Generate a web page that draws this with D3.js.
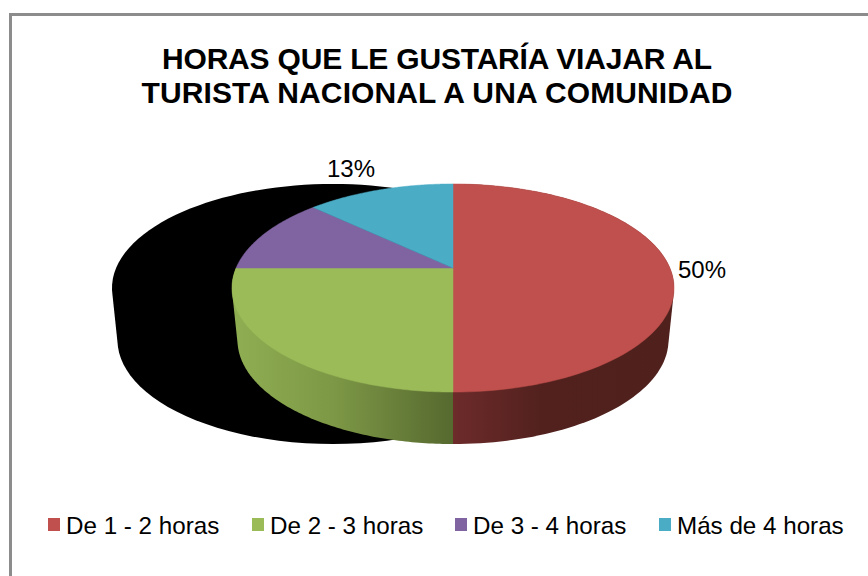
<!DOCTYPE html>
<html>
<head>
<meta charset="utf-8">
<script src="https://cdn.jsdelivr.net/npm/d3@7"></script>
<style>
  html, body { margin: 0; padding: 0; background: #fff; }
  svg { display: block; }
  text { font-family: "Liberation Sans", Arial, sans-serif; fill: #000; }
</style>
</head>
<body>
<svg id="chart" width="868" height="576"></svg>
<script>
var categorias = ["De 1 - 2 horas", "De 2 - 3 horas", "De 3 - 4 horas", "Más de 4 horas"]
var valores = [50, 25, 12, 13]
var colores = ["#c0504d", "#9bbb59", "#8064a2", "#4bacc6"]
var etiquetas = ["50%", "", "", "13%"]
var titulo = ["HORAS QUE LE GUSTARÍA VIAJAR AL", "TURISTA NACIONAL A UNA COMUNIDAD"]
var titulo_ancho = [550, 591]

var svg = d3.select("#chart")
var W = 868, H = 576

// frame runs off the right and bottom of the picture
svg.append("path")
    .attr("d", "M10.5," + H + "V14.5H" + W)
    .attr("fill", "none")
    .attr("stroke", "#8c8c8c")
    .attr("stroke-width", 3)

svg.selectAll(".titulo")
    .data(titulo)
    .enter()
    .append("text")
    .attr("class", "titulo")
    .attr("x", 437)
    .attr("y", function(d, i) { return 69 + i * 34 })
    .attr("text-anchor", "middle")
    .attr("textLength", function(d, i) { return titulo_ancho[i] })
    .attr("lengthAdjust", "spacing")
    .style("font-size", "30px")
    .style("font-weight", "bold")
    .text(function(d) { return d })

// the pie is a tilted disc, so the centre of the slices sits above the middle of the ellipse
var cx = 453, cy = 268, depth = 52
var persp = 0.1923
var scale_x = d3.scaleLinear().domain([-1, 1]).range([-216.9, 216.9])
var scale_y = d3.scaleLinear().domain([-1, 1]).range([-100.2, 100.2])
var bottom_shrink = 0.975

function project(angle, r, lower) {
    var u = Math.sin(angle) * r
    var v = -Math.cos(angle) * r
    var w = 1 - persp * v
    var k = lower ? bottom_shrink : 1
    return [cx + scale_x(u) / w * k, cy + scale_y(v) / w + (lower ? depth : 0)]
}

var pie = d3.pie().sort(null).value(function(d) { return d })
var arcs = pie(valores)
var color = d3.scaleOrdinal().domain(categorias).range(colores)
var line = d3.line()

function angles(a0, a1) {
    return d3.range(0, 121).map(function(i) { return a0 + (a1 - a0) * i / 120 })
}

function face_path(a) {
    var pts = angles(a.startAngle, a.endAngle).map(function(t) { return project(t, 1, false) })
    pts.unshift([cx, cy])
    return line(pts) + "Z"
}

// hull of the top and bottom rims gives straight tangent sides, the top face hides the rest
function wall_path(a0, a1) {
    var top = angles(a0, a1).map(function(t) { return project(t, 1, false) })
    var low = angles(a0, a1).map(function(t) { return project(t, 1, true) })
    return line(d3.polygonHull(top.concat(low))) + "Z"
}

var TAU = Math.PI * 2

// black copy of the whole pie, pushed to the left
var sombra = svg.append("g").attr("transform", "translate(-120,0)")
sombra.append("path").attr("d", wall_path(0, TAU)).attr("fill", "#000")

var defs = svg.append("defs")
var grad_green = defs.append("linearGradient").attr("id", "wall_green")
    .attr("gradientUnits", "userSpaceOnUse").attr("x1", 235).attr("x2", 453).attr("y1", 0).attr("y2", 0)
grad_green.append("stop").attr("offset", 0).attr("stop-color", "#8fae52")
grad_green.append("stop").attr("offset", 0.45).attr("stop-color", "#7d9846")
grad_green.append("stop").attr("offset", 1).attr("stop-color", "#56692f")
var grad_red = defs.append("linearGradient").attr("id", "wall_red")
    .attr("gradientUnits", "userSpaceOnUse").attr("x1", 453).attr("x2", 673).attr("y1", 0).attr("y2", 0)
grad_red.append("stop").attr("offset", 0).attr("stop-color", "#6d2b2a")
grad_red.append("stop").attr("offset", 0.4).attr("stop-color", "#52211e")
grad_red.append("stop").attr("offset", 1).attr("stop-color", "#4f201c")

svg.append("path").attr("d", wall_path(arcs[1].startAngle, arcs[1].endAngle)).attr("fill", "url(#wall_green)")
svg.append("path").attr("d", wall_path(arcs[0].startAngle, arcs[0].endAngle)).attr("fill", "url(#wall_red)")

svg.selectAll(".slice")
    .data(arcs)
    .enter()
    .append("path")
    .attr("class", "slice")
    .attr("d", face_path)
    .attr("fill", function(d, i) { return color(categorias[i]) })
    .attr("stroke", function(d, i) { return color(categorias[i]) })
    .attr("stroke-width", 0.5)

// only two slices carry a label in the original
var label_x = d3.scaleOrdinal().domain(etiquetas).range([702, 0, 351])
var label_y = d3.scaleOrdinal().domain(etiquetas).range([278, 0, 177])
svg.selectAll(".etiqueta")
    .data(etiquetas.filter(function(d) { return d != "" }))
    .enter()
    .append("text")
    .attr("class", "etiqueta")
    .attr("x", function(d) { return label_x(d) })
    .attr("y", function(d) { return label_y(d) })
    .attr("text-anchor", "middle")
    .style("font-size", "24px")
    .text(function(d) { return d })

var legend_x = d3.scaleOrdinal().domain(categorias).range([48, 252, 455, 659])
var legend = svg.selectAll(".legend")
    .data(categorias)
    .enter()
    .append("g")
    .attr("class", "legend")
    .attr("transform", function(d) { return "translate(" + legend_x(d) + ",0)" })
legend.append("rect")
    .attr("y", 518)
    .attr("width", 12)
    .attr("height", 13)
    .attr("fill", function(d) { return color(d) })
legend.append("text")
    .attr("x", 18)
    .attr("y", 534)
    .style("font-size", "24.2px")
    .text(function(d) { return d })
</script>
</body>
</html>
